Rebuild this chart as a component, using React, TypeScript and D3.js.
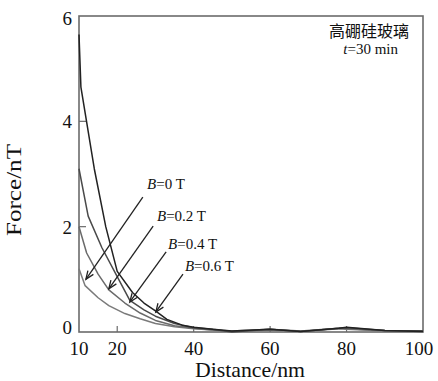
import * as d3 from "d3";

// ── chart size ──
const W = 438;
const H = 381;
const margin = { top: 16, right: 15, bottom: 49, left: 79 };
const innerW = W - margin.left - margin.right;
const innerH = H - margin.top - margin.bottom;

// ── data: distance (nm) vs force (nT) ──
const distB0 = [10, 11.6, 15, 17.8, 22, 26, 30, 35, 40, 45, 50, 60, 68, 78, 80, 90, 100];
const forceB0 = [1.2, 0.88, 0.65, 0.5, 0.35, 0.25, 0.16, 0.1, 0.06, 0.04, 0.01, 0.04, 0.01, 0.06, 0.05, 0.02, 0.01];

const distB02 = [10, 12, 15, 17.8, 22, 26, 30, 35, 40, 45, 50, 60, 68, 78, 80, 90, 100];
const forceB02 = [2.0, 1.5, 1.1, 0.8, 0.55, 0.36, 0.22, 0.12, 0.07, 0.04, 0.02, 0.05, 0.02, 0.07, 0.06, 0.03, 0.02];

const distB04 = [10, 12.4, 16, 20, 23.3, 27, 30, 35, 40, 45, 50, 60, 68, 78, 80, 90, 100];
const forceB04 = [3.1, 2.2, 1.6, 1.05, 0.6, 0.42, 0.3, 0.16, 0.08, 0.05, 0.0, 0.05, 0.01, 0.07, 0.08, 0.03, 0.02];

const distB06 = [10, 10.5, 14, 17, 20, 24, 27, 30, 33, 37, 40, 45, 50, 60, 68, 78, 80, 90, 100];
const forceB06 = [5.65, 4.65, 3.1, 2.0, 1.15, 0.75, 0.55, 0.4, 0.24, 0.13, 0.09, 0.05, 0.02, 0.05, 0.01, 0.07, 0.09, 0.03, 0.01];

const seriesNames = ["B=0 T", "B=0.2 T", "B=0.4 T", "B=0.6 T"];
const seriesDist = [distB0, distB02, distB04, distB06];
const seriesForce = [forceB0, forceB02, forceB04, forceB06];
const seriesColor = ["#7a7a7a", "#6a6a6a", "#4a4a4a", "#222"];

// arrow annotations in data units
const arrowLabelX = [27.8, 30.4, 33.3, 37.7];
const arrowLabelY = [2.71, 2.11, 1.57, 1.16];
const arrowFromX = [26.7, 29.4, 32.8, 37.2];
const arrowFromY = [2.56, 2.01, 1.52, 1.1];
const arrowToX = [11.8, 17.8, 23.3, 30.1];
const arrowToY = [1.0, 0.82, 0.57, 0.38];

const xTicks = [10, 20, 40, 60, 80, 100];
const yTicks = [0, 2, 4, 6];

const x = d3.scaleLinear().domain([10, 100]).range([0, innerW]);
const y = d3.scaleLinear().domain([0, 6]).range([innerH, 0]);

const serif = "'Liberation Serif', 'DejaVu Serif', serif";

export default function App() {
  const line = d3.line<[number, number]>()
    .x(d => x(d[0]))
    .y(d => y(d[1]));

  return (
    <svg width={W} height={H}
      style={{ position: "absolute", left: 0, top: 0, background: "#fff", display: "block" }}>
      <g transform={`translate(${margin.left},${margin.top})`}>
        {/* frame */}
        <rect x={0} y={0} width={innerW} height={innerH}
          fill="none" stroke="#6b6b6b" strokeWidth={1.6} />

        {/* x ticks, pointing inward */}
        {xTicks.map(t => (
          <g key={"x" + t}>
            {t !== 10 && t !== 100 && (
              <line x1={x(t)} x2={x(t)} y1={innerH} y2={innerH - 6}
                stroke="#6b6b6b" strokeWidth={1.2} />
            )}
            <text x={x(t) - (t === 100 ? 4 : 0)} y={innerH + 23} textAnchor="middle"
              fontSize={19} fontFamily={serif} fill="#111">{t}</text>
          </g>
        ))}

        {/* y ticks */}
        {yTicks.map(t => (
          <g key={"y" + t}>
            {t !== 0 && t !== 6 && (
              <line x1={0} x2={7} y1={y(t)} y2={y(t)}
                stroke="#6b6b6b" strokeWidth={1.2} />
            )}
            <text x={-7} y={y(t) + (t === 0 ? 2 : t === 6 ? 9 : 7)} textAnchor="end"
              fontSize={19} fontFamily={serif} fill="#111">{t}</text>
          </g>
        ))}

        {/* curves */}
        {seriesNames.map((name, i) => (
          <path key={name}
            d={line(seriesDist[i].map((d, j) => [d, seriesForce[i][j]] as [number, number])) || ""}
            fill="none" stroke={seriesColor[i]} strokeWidth={1.5}
            strokeLinejoin="round" />
        ))}

        {/* arrows + labels */}
        {seriesNames.map((name, i) => {
          const x1 = x(arrowFromX[i]), y1 = y(arrowFromY[i]);
          const x2 = x(arrowToX[i]), y2 = y(arrowToY[i]);
          const ang = Math.atan2(y2 - y1, x2 - x1);
          const len = 9, spread = 0.38;
          const h1 = [x2 - len * Math.cos(ang - spread), y2 - len * Math.sin(ang - spread)];
          const h2 = [x2 - len * Math.cos(ang + spread), y2 - len * Math.sin(ang + spread)];
          const [b, rest] = [name.slice(0, 1), name.slice(1)];
          return (
            <g key={name + "-arrow"}>
              <line x1={x1} y1={y1} x2={x2} y2={y2} stroke="#222" strokeWidth={1.3} />
              <polyline points={`${h1[0]},${h1[1]} ${x2},${y2} ${h2[0]},${h2[1]}`}
                fill="none" stroke="#222" strokeWidth={1.3} />
              <text x={x(arrowLabelX[i])} y={y(arrowLabelY[i])}
                fontSize={15} fontFamily={serif} fill="#111">
                <tspan fontStyle="italic">{b}</tspan>{rest}
              </text>
            </g>
          );
        })}

        {/* sample note */}
        <text x={innerW - 14} y={21} textAnchor="end" fontSize={16}
          fontFamily="'Noto Sans CJK SC', sans-serif" fill="#111">高硼硅玻璃</text>
        <text x={innerW - 25} y={38} textAnchor="end" fontSize={15}
          fontFamily={serif} fill="#111">
          <tspan fontStyle="italic">t</tspan>=30 min
        </text>

        {/* axis titles */}
        <text x={innerW / 2 - 1} y={innerH + 45} textAnchor="middle"
          fontSize={22} fontFamily={serif} fill="#111"
          textLength={110} lengthAdjust="spacingAndGlyphs">Distance/nm</text>
        <text transform={`translate(${-58},${innerH / 2 + 16}) rotate(-90)`}
          textAnchor="middle" fontSize={21} fontFamily={serif} fill="#111"
          textLength={92} lengthAdjust="spacingAndGlyphs">Force/nT</text>
      </g>
    </svg>
  );
}
